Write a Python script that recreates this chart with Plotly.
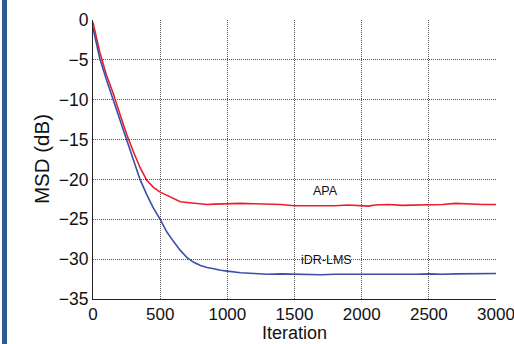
import plotly.graph_objects as go

iter_apa = [0, 25, 50, 100, 150, 200, 250, 300, 350, 400, 450, 500, 550, 600, 650, 700, 750, 800, 850, 900,
            1000, 1100, 1200, 1300, 1400, 1500, 1600, 1700, 1800, 1900, 2000, 2050, 2100, 2200, 2300, 2400,
            2500, 2600, 2700, 2800, 2900, 3000]
msd_apa = [-0.3, -2.2, -4.0, -6.9, -9.2, -11.8, -14.3, -16.5, -18.5, -20.1, -21.0, -21.6, -22.0, -22.5, -22.8,
           -22.9, -23.0, -23.1, -23.15, -23.1, -23.05, -23.0, -23.05, -23.1, -23.15, -23.3, -23.3, -23.25,
           -23.3, -23.2, -23.25, -23.35, -23.2, -23.15, -23.25, -23.2, -23.2, -23.15, -23.0, -23.1, -23.15, -23.15]

iter_idr = [0, 25, 50, 100, 150, 200, 250, 300, 350, 400, 450, 500, 550, 600, 650, 700, 750, 800, 850, 900,
            950, 1000, 1100, 1200, 1300, 1400, 1500, 1600, 1700, 1800, 1900, 2000, 2100, 2200, 2300, 2400,
            2500, 2600, 2700, 2800, 2900, 3000]
msd_idr = [-1.0, -2.8, -4.8, -7.5, -10.0, -12.6, -15.2, -17.7, -20.0, -21.9, -23.6, -25.0, -26.6, -27.8, -28.9,
           -29.8, -30.4, -30.8, -31.05, -31.2, -31.4, -31.5, -31.7, -31.8, -31.9, -31.85, -31.9, -31.9, -31.95,
           -31.9, -31.9, -31.95, -31.9, -31.95, -31.9, -31.9, -31.85, -31.9, -31.85, -31.85, -31.8, -31.8]

x_ticks = [0, 500, 1000, 1500, 2000, 2500, 3000]
y_ticks = [0, -5, -10, -15, -20, -25, -30, -35]
y_tick_text = ["0", "\u22125", "\u221210", "\u221215", "\u221220", "\u221225", "\u221230", "\u221235"]

labels = ["APA", "iDR-LMS"]
label_x = [1730, 1740]
label_y = [-21.4, -30.1]

W, H = 514, 344
L, R, T, B = 93, 18, 20, 45
PW, PH = W - L - R, H - T - B

fig = go.Figure()
fig.add_trace(go.Scatter(x=iter_apa, y=msd_apa, mode="lines", line=dict(color="#e8202a", width=1.6),
                         showlegend=False))
fig.add_trace(go.Scatter(x=iter_idr, y=msd_idr, mode="lines", line=dict(color="#3a50a8", width=1.6),
                         showlegend=False))

for t, xx, yy in zip(labels, label_x, label_y):
    fig.add_annotation(x=xx, y=yy, text=t, showarrow=False, font=dict(size=12.5, color="#111"))

# axis titles
fig.add_annotation(xref="paper", yref="paper", x=(294 - L) / PW, y=-B / PH, borderpad=0,
                   xanchor="center", yanchor="bottom", text="Iteration", showarrow=False,
                   font=dict(size=18, color="#111"))
fig.add_annotation(xref="paper", yref="paper", x=(41 - L) / PW, y=(T + PH - 159) / PH,
                   xanchor="center", yanchor="middle", text="MSD (dB)", textangle=-90, showarrow=False,
                   font=dict(size=20.5, color="#111"))

# left decorative bar
fig.add_shape(type="rect", xref="paper", yref="paper", x0=-(L - 2) / PW, x1=-(L - 7) / PW, y0=-2, y1=2,
              fillcolor="#2d5b96", line=dict(width=0), layer="above")

grid = dict(showgrid=True, gridcolor="#555", griddash="1px,1px", gridwidth=1)
fig.update_layout(
    width=W, height=H,
    margin=dict(l=L, r=R, t=T, b=B, autoexpand=False),
    paper_bgcolor="white", plot_bgcolor="white",
    font=dict(family="Liberation Sans, Arial, sans-serif", color="#111"),
    xaxis=dict(range=[0, 3000], tickvals=x_ticks, ticktext=[str(v) for v in x_ticks],
               showline=True, linecolor="#222", linewidth=1, zeroline=False, ticks="",
               tickfont=dict(size=17), automargin=False, ticklabeloverflow="allow", **grid),
    yaxis=dict(range=[-35, 0], tickvals=y_ticks, ticktext=y_tick_text,
               showline=True, linecolor="#222", linewidth=1, zeroline=False, ticks="",
               tickfont=dict(size=17.5), automargin=False, ticklabeloverflow="allow", **grid),
)

fig.write_html("out.html", config={"displayModeBar": False},
               post_script="document.body.style.margin='0';document.body.style.overflow='hidden';")
